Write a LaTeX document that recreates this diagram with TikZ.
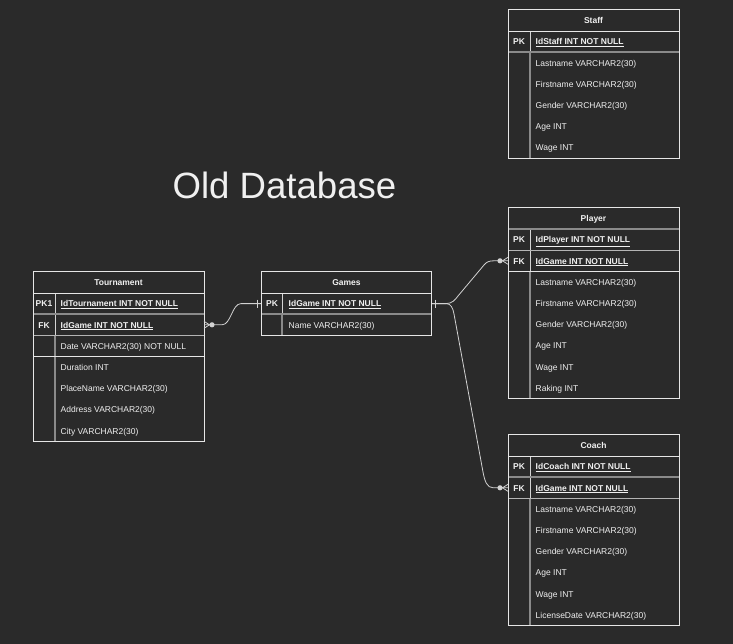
\documentclass[tikz,border=0pt]{standalone}
\usepackage{fontspec}
\setmainfont{Liberation Sans}
\usetikzlibrary{calc}
\definecolor{bg}{HTML}{2A2A2A}
\definecolor{fg}{HTML}{F0F0F0}
\definecolor{ln}{HTML}{E6E6E6}
\definecolor{gl}{HTML}{8A8A8A}
\definecolor{gm}{HTML}{B4B4B4}
\definecolor{cn}{HTML}{D2D2D2}
\tikzset{
  tbl/.style={draw=ln, line width=0.9pt, fill=bg, inner sep=0pt, outer sep=0pt, anchor=north west, minimum width=171pt},
  erow/.style={inner sep=0pt, outer sep=0pt, minimum width=171pt, anchor=north west},
  hdr/.style={font=\fontsize{8.5}{10}\selectfont\bfseries, text=fg, inner sep=0pt},
  keyt/.style={font=\fontsize{8.5}{10}\selectfont\bfseries, text=fg, inner sep=0pt},
  fld/.style={font=\fontsize{8.5}{10}\selectfont, text=fg, inner sep=0pt},
  sepw/.style={draw=ln, line width=0.9pt},
  sepm/.style={draw=gm, line width=1.2pt},
  sepg/.style={draw=gl, line width=1.6pt},
  divk/.style={draw=ln!80!gl, line width=0.9pt},
  divl/.style={draw=gl, line width=1.3pt},
  conn/.style={draw=cn, line width=0.8pt},
}
\newcommand{\ERhead}[4]{%
  \node[erow, minimum height=22pt] (#1) at (#2,#3) {};
  \node[hdr, anchor=base] (#1t) at ($(#1.center)+(0,3.3)$) {#4};}
\newcommand{\ERkey}[5]{%
  \node[erow, minimum height=21.2pt] (#1) at (#2,#3) {};
  \node[keyt, anchor=base] (#1k) at ($(#1.west)+(11,3.3)$) {#4};
  \node[fld, anchor=base west] (#1f) at ($(#1.west)+(27.5,3.3)$) {#5};}
\newcommand{\ERplain}[4]{%
  \node[erow, minimum height=21.2pt] (#1) at (#2,#3) {};
  \node[fld, anchor=base west] (#1f) at ($(#1.west)+(27.5,3.3)$) {#4};}
\newcommand{\ERfields}[4]{%
  \foreach \t [count=\i from 0] in {#4}{%
    \pgfmathsetmacro\yy{#3+21.2*\i}
    \ERplain{#1\i}{#2}{\yy}{\t}}}
\newcommand{\ERcrow}[2]{%
  \draw[conn] ($(#1)+(0,-3.5)$) -- ($(#1)+(#2*5.5,0)$) -- ($(#1)+(0,3.5)$);
  \fill[cn] ($(#1)+(#2*8,0)$) circle (2.6pt);}
\newcommand{\ERone}[2]{%
  \draw[conn] ($(#1)+(#2*3.5,-4)$) -- ($(#1)+(#2*3.5,4)$);}
\newcommand{\keyfield}[1]{\textbf{\underline{#1}}}
\begin{document}
\begin{tikzpicture}[x=1pt,y=-1pt]
\fill[bg] (0,0) rectangle (733,644);
\useasboundingbox (0,0) rectangle (733,644);

% Title
\node[font=\fontsize{36.6}{40}\selectfont, text=fg, anchor=base, inner sep=0pt] (title) at (284.5,199) {Old Database};

% ---------------- Staff
\node[tbl, minimum height=149.2pt] (staff) at (508,9) {};
\ERhead{staffH}{508}{9}{Staff}
\ERkey{staffPK}{508}{31}{PK}{\keyfield{IdStaff INT NOT NULL}}
\ERfields{staffF}{508}{52.2}{Lastname VARCHAR2(30),Firstname VARCHAR2(30),Gender VARCHAR2(30),Age INT,Wage INT}
\draw[divk] ($(staffPK.north west)+(22,0)$) -- ($(staffPK.south west)+(22,0)$);
\draw[divl] ($(staffPK.south west)+(22,0)$) -- ($(staff.south west)+(22,-0.5)$);
\draw[sepw] (staffH.south west) -- (staffH.south east);
\draw[sepg] (staffPK.south west) -- (staffPK.south east);
\draw[draw=ln, line width=0.9pt] (staff.north west) rectangle (staff.south east);

% ---------------- Player
\node[tbl, minimum height=191.6pt] (player) at (508,207) {};
\ERhead{playerH}{508}{207}{Player}
\ERkey{pPK}{508}{229}{PK}{\keyfield{IdPlayer INT NOT NULL}}
\ERkey{pFK}{508}{250.2}{FK}{\keyfield{IdGame INT NOT NULL}}
\ERfields{playerF}{508}{271.4}{Lastname VARCHAR2(30),Firstname VARCHAR2(30),Gender VARCHAR2(30),Age INT,Wage INT,Raking INT}
\draw[divk] ($(pPK.north west)+(22,0)$) -- ($(pFK.south west)+(22,0)$);
\draw[divl] ($(pFK.south west)+(22,0)$) -- ($(player.south west)+(22,-0.5)$);
\draw[sepg] (playerH.south west) -- (playerH.south east);
\draw[sepm] (pPK.south west) -- (pPK.south east);
\draw[sepw] (pFK.south west) -- (pFK.south east);
\draw[draw=ln, line width=0.9pt] (player.north west) rectangle (player.south east);

% ---------------- Tournament
\node[tbl, minimum height=170.4pt] (tour) at (33,271) {};
\ERhead{tourH}{33}{271}{Tournament}
\ERkey{tPK}{33}{293}{PK1}{\keyfield{IdTournament INT NOT NULL}}
\ERkey{tFK}{33}{314.2}{FK}{\keyfield{IdGame INT NOT NULL}}
\ERplain{tDate}{33}{335.4}{Date VARCHAR2(30) NOT NULL}
\ERfields{tourF}{33}{356.6}{Duration INT,PlaceName VARCHAR2(30),Address VARCHAR2(30),City VARCHAR2(30)}
\draw[divk] ($(tPK.north west)+(22,0)$) -- ($(tFK.south west)+(22,0)$);
\draw[divl] ($(tFK.south west)+(22,0)$) -- ($(tour.south west)+(22,-0.5)$);
\draw[sepw] (tourH.south west) -- (tourH.south east);
\draw[sepg] (tPK.south west) -- (tPK.south east);
\draw[sepm] (tFK.south west) -- (tFK.south east);
\draw[sepw] (tDate.south west) -- (tDate.south east);
\draw[draw=ln, line width=0.9pt] (tour.north west) rectangle (tour.south east);

% ---------------- Games
\node[tbl, minimum height=64.4pt, minimum width=170pt] (games) at (261,271) {};
\ERhead{gamesH}{261}{271}{Games}
\ERkey{gPK}{261}{293}{PK}{\keyfield{IdGame INT NOT NULL}}
\ERplain{gName}{261}{314.2}{Name VARCHAR2(30)}
\draw[divk] ($(gPK.north west)+(21,0)$) -- ($(gPK.south west)+(21,0)$);
\draw[divl] ($(gPK.south west)+(21,0)$) -- ($(games.south west)+(21,-0.5)$);
\draw[sepw] (gamesH.south west) -- (gamesH.south east);
\draw[sepg] (gPK.south west) -- (gPK.south east);
\draw[draw=ln, line width=0.9pt] (games.north west) rectangle (games.south east);

% ---------------- Coach
\node[tbl, minimum height=191.6pt] (coach) at (508,434) {};
\ERhead{coachH}{508}{434}{Coach}
\ERkey{cPK}{508}{456}{PK}{\keyfield{IdCoach INT NOT NULL}}
\ERkey{cFK}{508}{477.2}{FK}{\keyfield{IdGame INT NOT NULL}}
\ERfields{coachF}{508}{498.4}{Lastname VARCHAR2(30),Firstname VARCHAR2(30),Gender VARCHAR2(30),Age INT,Wage INT,LicenseDate VARCHAR2(30)}
\draw[divk] ($(cPK.north west)+(22,0)$) -- ($(cFK.south west)+(22,0)$);
\draw[divl] ($(cFK.south west)+(22,0)$) -- ($(coach.south west)+(22,-0.5)$);
\draw[sepw] (coachH.south west) -- (coachH.south east);
\draw[sepg] (cPK.south west) -- (cPK.south east);
\draw[sepm] (cFK.south west) -- (cFK.south east);
\draw[draw=ln, line width=0.9pt] (coach.north west) rectangle (coach.south east);

% ---------------- Connectors
% Tournament -> Games
\draw[conn] (tFK.east) -- ($(tFK.east)+(18,0)$)
  .. controls ($(tFK.east)+(27,0)$) and ($(gPK.west)+(-29,0)$) .. ($(gPK.west)+(-20,0)$)
  -- (gPK.west);
\ERcrow{tFK.east}{1}
\ERone{gPK.west}{-1}

% Games -> Player
\draw[conn] (gPK.east) -- ($(gPK.east)+(14,0)$)
  .. controls ($(gPK.east)+(20,0)$) and ($(gPK.east)+(23,-3.6)$) .. ($(gPK.east)+(26,-7.6)$)
  -- ($(pFK.west)+(-24,4.2)$)
  .. controls ($(pFK.west)+(-21.4,1.1)$) and ($(pFK.west)+(-19,0)$) .. ($(pFK.west)+(-14,0)$)
  -- (pFK.west);
% Games -> Coach
\draw[conn] (gPK.east) -- ($(gPK.east)+(14,0)$)
  .. controls ($(gPK.east)+(19,0)$) and ($(gPK.east)+(20.9,4.4)$) .. ($(gPK.east)+(22,10.4)$)
  -- ($(cFK.west)+(-25,-15.8)$)
  .. controls ($(cFK.west)+(-23.4,-7)$) and ($(cFK.west)+(-21,0)$) .. ($(cFK.west)+(-15,0)$)
  -- (cFK.west);
\ERone{gPK.east}{1}
\ERcrow{pFK.west}{-1}
\ERcrow{cFK.west}{-1}
\end{tikzpicture}
\end{document}
